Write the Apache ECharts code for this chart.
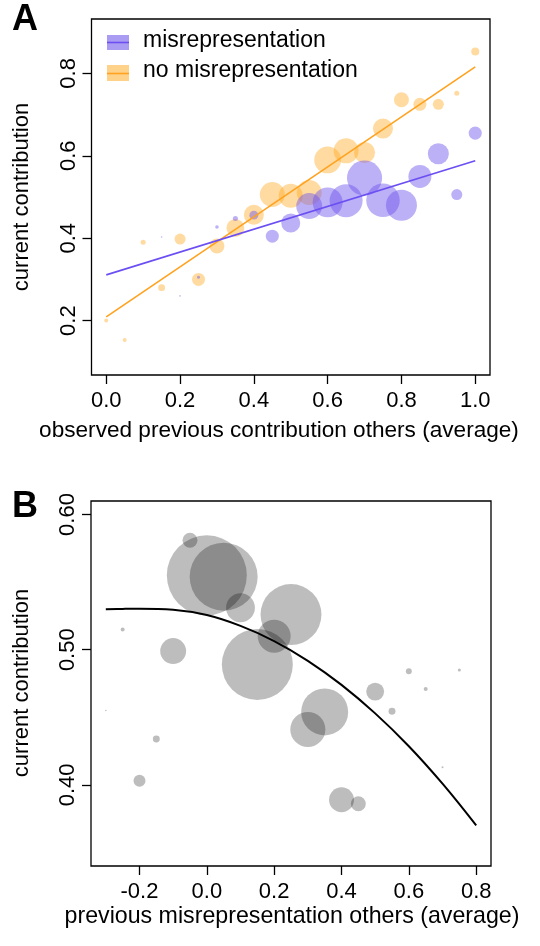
<!DOCTYPE html>
<html>
<head>
<meta charset="utf-8">
<script src="https://cdn.jsdelivr.net/npm/echarts@6/dist/echarts.min.js"></script>
<style>
  html, body { margin: 0; padding: 0; background: #fff; }
  #chart { width: 540px; height: 946px; }
</style>
</head>
<body>
<div id="chart"></div>
<script>
// panel A: contribution vs observed previous contribution of others
var xA = [0, 0.05, 0.1, 0.15, 0.2, 0.25, 0.3, 0.35, 0.4, 0.45, 0.5, 0.55, 0.6, 0.65, 0.7, 0.75, 0.8, 0.85, 0.9, 0.95, 1.0];
var noMisY = [0.2, 0.153, 0.39, 0.28, 0.398, 0.30, 0.381, 0.425, 0.457, 0.506, 0.503, 0.511, 0.59, 0.612, 0.608, 0.666, 0.736, 0.725, 0.725, 0.752, 0.853];
var noMisN = [1, 1, 1.6, 3, 7.6, 10.6, 14, 20, 25, 39, 36, 39, 45, 39, 27.6, 25, 14, 10.6, 7.6, 1.6, 4];

var xMis = [0.15, 0.2, 0.25, 0.3, 0.35, 0.4, 0.45, 0.5, 0.55, 0.6, 0.65, 0.7, 0.75, 0.8, 0.85, 0.9, 0.95, 1.0];
var misY = [0.403, 0.26, 0.305, 0.427, 0.448, 0.456, 0.405, 0.437, 0.478, 0.487, 0.491, 0.546, 0.492, 0.48, 0.55, 0.605, 0.506, 0.655];
var misN = [0.15, 0.15, 0.56, 0.8, 1.6, 5, 10.6, 22.6, 42, 56, 68, 77, 70, 60, 33, 27.6, 7.6, 10.6];

// fitted lines (end points)
var fitX = [0, 1];
var misFit = [0.311, 0.588];
var noMisFit = [0.209, 0.816];

var ticksXA = [0, 0.2, 0.4, 0.6, 0.8, 1.0];
var ticksYA = [0.2, 0.4, 0.6, 0.8];

// panel B: contribution vs previous misrepresentation of others
var xB = [-0.3, -0.25, -0.2, -0.15, -0.1, -0.05, 0, 0.05, 0.1, 0.15, 0.2, 0.25, 0.3, 0.35, 0.4, 0.45, 0.5, 0.55, 0.6, 0.65, 0.7, 0.75];
var yB = [0.455, 0.515, 0.403, 0.434, 0.499, 0.581, 0.555, 0.554, 0.531, 0.489, 0.510, 0.526, 0.441, 0.454, 0.389, 0.386, 0.469, 0.4545, 0.484, 0.471, 0.413, 0.485];
var nB = [0.15, 1, 9, 3, 42, 14, 400, 289, 52, 315, 68, 232, 77, 138, 39, 14, 20, 3, 2.2, 1, 0.25, 0.6];

var curveX = [-0.3, -0.25, -0.2, -0.1, 0, 0.1, 0.2, 0.3, 0.4, 0.5, 0.6, 0.7, 0.8];
var curveY = [0.530, 0.5302, 0.5303, 0.5295, 0.5256, 0.5176, 0.5064, 0.4918, 0.474, 0.4529, 0.4286, 0.4009, 0.370];

var ticksXB = [-0.2, 0, 0.2, 0.4, 0.6, 0.8];
var ticksYB = [0.4, 0.5, 0.6];

var FONT = '"Liberation Sans", Arial, sans-serif';
var PURPLE = '#6c4ff2';
var ORANGE = '#ffa21f';

function zip(xs, ys, ns) {
  return xs.map(function(x, i){ return ns ? [x, ys[i], ns[i]] : [x, ys[i]]; });
}
function bubble(v) { return 4 * Math.sqrt(v[2]); }

function axisX(grid, min, max, ticks, digits) {
  return {
    type: 'value', gridIndex: grid, min: min, max: max,
    splitLine: { show: false },
    axisLine: { show: false, onZero: false },
    axisTick: { show: true, length: 9, customValues: ticks, lineStyle: { color: '#000', width: 1.3 } },
    axisLabel: { customValues: ticks, margin: 15, color: '#000', fontSize: 22, fontFamily: FONT,
      formatter: function(v){ return v.toFixed(digits); } }
  };
}
function axisY(grid, min, max, ticks, digits) {
  return {
    type: 'value', gridIndex: grid, min: min, max: max,
    splitLine: { show: false },
    axisLine: { show: false, onZero: false },
    axisTick: { show: true, length: 9, customValues: ticks, lineStyle: { color: '#000', width: 1.3 } },
    axisLabel: { customValues: ticks, margin: 12, rotate: 90, color: '#000', fontSize: 22, fontFamily: FONT,
      formatter: function(v){ return v.toFixed(digits); } }
  };
}

var chart = echarts.init(document.getElementById('chart'), null, { renderer: 'canvas' });

chart.setOption({
  animation: false,
  backgroundColor: '#fff',
  grid: [
    { left: 91.5, top: 19, width: 398.5, height: 356, show: true, borderColor: '#000', borderWidth: 1.3, backgroundColor: 'transparent', containLabel: false, outerBoundsMode: 'none' },
    { left: 91, top: 501, width: 400, height: 365, show: true, borderColor: '#000', borderWidth: 1.3, backgroundColor: 'transparent', containLabel: false, outerBoundsMode: 'none' }
  ],
  xAxis: [
    axisX(0, -0.04, 1.04, ticksXA, 1),
    axisX(1, -0.344, 0.844, ticksXB, 1)
  ],
  yAxis: [
    axisY(0, 0.068, 0.932, ticksYA, 1),
    axisY(1, 0.34, 0.61, ticksYB, 2)
  ],
  series: [
    {
      type: 'scatter', xAxisIndex: 0, yAxisIndex: 0,
      data: zip(xA, noMisY, noMisN), symbolSize: bubble,
      itemStyle: { color: 'rgba(255,165,20,0.5)' }
    },
    {
      type: 'scatter', xAxisIndex: 0, yAxisIndex: 0,
      data: zip(xMis, misY, misN), symbolSize: bubble,
      itemStyle: { color: 'rgba(110,85,235,0.58)' }
    },
    {
      type: 'line', xAxisIndex: 0, yAxisIndex: 0, data: zip(fitX, noMisFit),
      showSymbol: false, lineStyle: { color: ORANGE, width: 1.6 }
    },
    {
      type: 'line', xAxisIndex: 0, yAxisIndex: 0, data: zip(fitX, misFit),
      showSymbol: false, lineStyle: { color: PURPLE, width: 1.6 }
    },
    {
      type: 'scatter', xAxisIndex: 1, yAxisIndex: 1,
      data: zip(xB, yB, nB), symbolSize: bubble,
      itemStyle: { color: 'rgba(0,0,0,0.32)' }
    },
    {
      type: 'line', xAxisIndex: 1, yAxisIndex: 1, data: zip(curveX, curveY),
      smooth: 0.4, showSymbol: false, lineStyle: { color: '#000', width: 2 }
    }
  ],
  graphic: [
    { type: 'text', x: 12, y: 20, style: { text: 'A', font: 'bold 36px ' + FONT, fill: '#000', verticalAlign: 'middle' } },
    { type: 'text', x: 12, y: 507, style: { text: 'B', font: 'bold 36px ' + FONT, fill: '#000', verticalAlign: 'middle' } },
    // legend
    { type: 'rect', shape: { x: 107, y: 35, width: 22, height: 15 }, style: { fill: 'rgba(110,85,235,0.58)' } },
    { type: 'line', shape: { x1: 107, y1: 42.5, x2: 129, y2: 42.5 }, style: { stroke: PURPLE, lineWidth: 1.6 } },
    { type: 'rect', shape: { x: 107, y: 65, width: 22, height: 16 }, style: { fill: 'rgba(255,165,20,0.5)' } },
    { type: 'line', shape: { x1: 107, y1: 73.5, x2: 129, y2: 73.5 }, style: { stroke: ORANGE, lineWidth: 1.6 } },
    { type: 'text', x: 143, y: 41, style: { text: 'misrepresentation', font: '23px ' + FONT, fill: '#000', verticalAlign: 'middle' } },
    { type: 'text', x: 143, y: 71, style: { text: 'no misrepresentation', font: '23px ' + FONT, fill: '#000', verticalAlign: 'middle' } },
    // axis titles
    { type: 'text', x: 279, y: 431, style: { text: 'observed previous contribution others (average)', font: '22.6px ' + FONT, fill: '#000', align: 'center', verticalAlign: 'middle' } },
    { type: 'text', x: 292, y: 917, style: { text: 'previous misrepresentation others (average)', font: '23.2px ' + FONT, fill: '#000', align: 'center', verticalAlign: 'middle' } },
    { type: 'text', x: 22, y: 197, rotation: Math.PI / 2, style: { text: 'current contribution', font: '22px ' + FONT, fill: '#000', align: 'center', verticalAlign: 'middle' } },
    { type: 'text', x: 22, y: 683, rotation: Math.PI / 2, style: { text: 'current contribution', font: '22px ' + FONT, fill: '#000', align: 'center', verticalAlign: 'middle' } }
  ]
});
</script>
</body>
</html>
